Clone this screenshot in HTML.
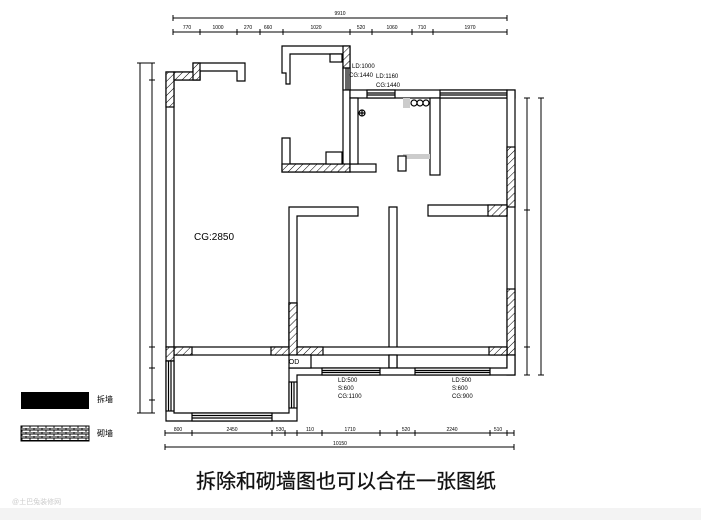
<!DOCTYPE html>
<html><head><meta charset="utf-8"><style>
html,body{margin:0;padding:0;background:#fff;width:701px;height:520px;overflow:hidden}
svg{display:block}
</style></head><body>
<svg width="701" height="520" viewBox="0 0 701 520" xmlns="http://www.w3.org/2000/svg">
<defs>
<pattern id="h" patternUnits="userSpaceOnUse" width="5" height="5" patternTransform="rotate(45)">
<rect width="5" height="5" fill="#fff"/><line x1="0" y1="0" x2="0" y2="5" stroke="#000" stroke-width="1"/></pattern>
<pattern id="b" patternUnits="userSpaceOnUse" width="8" height="4">
<rect width="8" height="4" fill="#fff"/><path d="M0 0H8M0 2H8M2 0V2M6 2V4" stroke="#000" stroke-width="0.9" fill="none"/></pattern>
</defs>
<rect x="0" y="508" width="701" height="12" fill="#f3f3f3"/>
<g stroke="#000" stroke-width="1" fill="none">
<line x1="173" y1="18" x2="507" y2="18"/>
<line x1="173" y1="32" x2="507" y2="32"/>
<path d="M173 15V21M507 15V21M173 29V35M200 29V35M237 29V35M260 29V35M283 29V35M350 29V35M372 29V35M412 29V35M433 29V35M507 29V35"/>
<line x1="140" y1="63" x2="140" y2="413"/>
<line x1="152" y1="63" x2="152" y2="413"/>
<path d="M137 63H155M137 413H155M149 80H155M149 347H155M149 368H155M149 400H155"/>
<line x1="527" y1="98" x2="527" y2="375"/>
<line x1="541" y1="98" x2="541" y2="375"/>
<path d="M524 98H530M524 210H530M524 347H530M524 375H530M538 98H544M538 375H544"/>
<line x1="165" y1="433" x2="514" y2="433"/>
<line x1="165" y1="447" x2="514" y2="447"/>
<path d="M165 430V436M192 430V436M272 430V436M285 430V436M297 430V436M322 430V436M380 430V436M397 430V436M415 430V436M490 430V436M507 430V436M514 430V436M165 444V450M514 444V450"/>
</g>
<g fill="#000" font-family="Liberation Sans, sans-serif" font-size="5" text-anchor="middle">
<text x="340" y="15">9910</text>
<text x="187" y="29">770</text><text x="218" y="29">1000</text><text x="248" y="29">270</text><text x="268" y="29">660</text>
<text x="316" y="29">1020</text><text x="361" y="29">520</text><text x="392" y="29">1060</text><text x="422" y="29">710</text><text x="470" y="29">1970</text>
<text x="178" y="431">800</text><text x="232" y="431">2450</text><text x="280" y="431">530</text><text x="310" y="431">110</text><text x="350" y="431">1710</text><text x="406" y="431">520</text><text x="452" y="431">2240</text><text x="498" y="431">510</text>
<text x="340" y="445">10150</text>
</g>
<g stroke="#000" stroke-width="1.2" fill="#fff">
<path d="M166 72H193V63H245V81H237V71H200V80H174V347H166Z"/>
<rect x="166" y="72" width="8" height="35" fill="url(#h)"/>
<rect x="174" y="72" width="26" height="8" fill="url(#h)"/>
<rect x="193" y="63" width="7" height="17" fill="url(#h)"/>
<path d="M282 46H350V172H282V138H290V164H343V54H290V84H286V73H282Z"/>
<rect x="282" y="164" width="68" height="8" fill="url(#h)"/>
<rect x="343" y="46" width="7" height="22" fill="url(#h)"/>
<rect x="343" y="68" width="7" height="22"/>
<line x1="346" y1="68" x2="346" y2="90"/><line x1="348" y1="68" x2="348" y2="90"/>
<rect x="350" y="164" width="26" height="8"/>
<rect x="326" y="152" width="16" height="12"/>
<rect x="330" y="54" width="12" height="8"/>
<rect x="350" y="90" width="165" height="8"/>
<rect x="367" y="90" width="28" height="8"/><line x1="367" y1="93" x2="395" y2="93"/><line x1="367" y1="95" x2="395" y2="95"/>
<rect x="440" y="90" width="67" height="8"/><line x1="440" y1="93" x2="507" y2="93"/><line x1="440" y1="95" x2="507" y2="95"/>
<rect x="350" y="98" width="8" height="66"/>
<rect x="430" y="98" width="10" height="77"/>
<rect x="403" y="98" width="7" height="10" fill="#ccc" stroke="none"/>
<circle cx="414" cy="103" r="3"/><circle cx="420" cy="103" r="3"/><circle cx="426" cy="103" r="3"/>
<rect x="403" y="154" width="27" height="5" fill="#ccc" stroke="none"/>
<rect x="398" y="156" width="8" height="15"/>
<circle cx="362" cy="113" r="3"/><path d="M359 113H365M362 110V116"/>
<rect x="507" y="90" width="8" height="285"/>
<rect x="507" y="147" width="8" height="60" fill="url(#h)"/>
<rect x="507" y="289" width="8" height="66" fill="url(#h)"/>
<path d="M289 207H358V216H297V347H289Z"/>
<rect x="289" y="303" width="8" height="44" fill="url(#h)"/>
<path d="M428 205H507V216H428Z"/>
<rect x="488" y="205" width="19" height="11" fill="url(#h)"/>
<path d="M389 207H397V368H389Z"/>
<rect x="174" y="347" width="333" height="8"/>
<rect x="174" y="347" width="18" height="8" fill="url(#h)"/>
<rect x="271" y="347" width="52" height="8" fill="url(#h)"/>
<rect x="289" y="303" width="8" height="52" fill="url(#h)"/>
<rect x="489" y="347" width="18" height="8" fill="url(#h)"/>
<rect x="166" y="347" width="8" height="14" fill="url(#h)"/>
<rect x="389" y="355" width="8" height="13"/>
<path d="M289 368H507V355H515V375H297V421H166V361H174V413H289Z"/>
<rect x="289" y="355" width="22" height="13"/>
<rect x="322" y="368" width="58" height="7"/><line x1="322" y1="370.5" x2="380" y2="370.5"/><line x1="322" y1="372.5" x2="380" y2="372.5"/>
<rect x="415" y="368" width="75" height="7"/><line x1="415" y1="370.5" x2="490" y2="370.5"/><line x1="415" y1="372.5" x2="490" y2="372.5"/>
<rect x="192" y="413" width="80" height="8"/><line x1="192" y1="415.5" x2="272" y2="415.5"/><line x1="192" y1="418" x2="272" y2="418"/>
<rect x="166" y="361" width="8" height="50"/><line x1="168.5" y1="361" x2="168.5" y2="411"/><line x1="171" y1="361" x2="171" y2="411"/>
<rect x="289" y="382" width="8" height="26"/><line x1="291.5" y1="382" x2="291.5" y2="408"/><line x1="294" y1="382" x2="294" y2="408"/>
</g>
<text x="294" y="364" font-family="Liberation Sans, sans-serif" font-size="7" text-anchor="middle">OD</text>
<g fill="#000" font-family="Liberation Sans, sans-serif" font-size="6">
<text x="352" y="68">LD:1000</text><text x="349" y="77">CG:1440</text>
<text x="376" y="78">LD:1160</text><text x="376" y="87">CG:1440</text>
<text x="338" y="382">LD:500</text><text x="338" y="390">S:600</text><text x="338" y="398">CG:1100</text>
<text x="452" y="382">LD:500</text><text x="452" y="390">S:600</text><text x="452" y="398">CG:900</text>
</g>
<text x="194" y="240" font-family="Liberation Sans, sans-serif" font-size="10">CG:2850</text>
<rect x="21" y="392" width="68" height="17" fill="#000"/>
<rect x="21" y="426" width="68" height="15" fill="url(#b)" stroke="#000"/>
<g font-family="Liberation Sans, 'Noto Sans CJK SC', sans-serif" font-size="8" fill="#000">
<text x="97" y="402">拆墙</text><text x="97" y="436">砌墙</text>
</g>
<text x="346" y="488" text-anchor="middle" font-family="Liberation Sans, 'Noto Sans CJK SC', sans-serif" font-size="20" fill="#111" stroke="#111" stroke-width="0.3">拆除和砌墙图也可以合在一张图纸</text>
<text x="12" y="504" font-family="Liberation Sans, sans-serif" font-size="7" fill="#ccc">@土巴兔装修网</text>
</svg>
</body></html>
